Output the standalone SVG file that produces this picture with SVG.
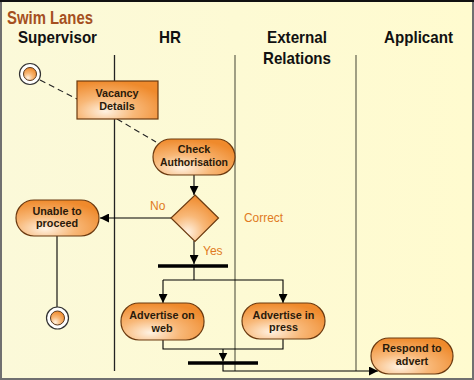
<svg xmlns="http://www.w3.org/2000/svg" width="474" height="380" viewBox="0 0 474 380">
<defs>
<linearGradient id="bg" x1="0" y1="0" x2="1" y2="0">
<stop offset="0" stop-color="#fbf9d9"/>
<stop offset="1" stop-color="#fffbcf"/>
</linearGradient>
<radialGradient id="ng" cx="0.35" cy="0.8" r="0.8">
<stop offset="0" stop-color="#fff2e2"/>
<stop offset="0.45" stop-color="#f8b878"/>
<stop offset="1" stop-color="#ef8a2c"/>
</radialGradient>
<marker id="ah" viewBox="0 0 10 10" refX="10" refY="5" markerWidth="9" markerHeight="9" markerUnits="userSpaceOnUse" orient="auto">
<path d="M0,0 L10,5 L0,10 Z" fill="#000"/>
</marker>
<style>
.hdr{font-family:"Liberation Sans",Arial,sans-serif;font-weight:bold;font-size:17px;fill:#111;text-anchor:middle}
.nt{font-family:"Liberation Sans",Arial,sans-serif;font-weight:bold;font-size:10.8px;fill:#2a1a0a;text-anchor:middle}
.lbl{font-family:"Liberation Sans",Arial,sans-serif;font-size:12px;fill:#e07a22}
.node{fill:url(#ng);stroke:#6b3a10;stroke-width:1.2}
.lane{stroke-width:1.3;fill:none}
.c{stroke:#000;stroke-width:1.1;fill:none}
.ca{stroke:#000;stroke-width:1.1;fill:none;marker-end:url(#ah)}
.dash{stroke:#222;stroke-width:1.1;fill:none;stroke-dasharray:6,4}
.bar{stroke:#000;stroke-width:3.5}
</style>
</defs>
<rect x="1" y="1" width="472" height="378" fill="url(#bg)" stroke="#707070" stroke-width="2"/>
<line x1="0" y1="1" x2="474" y2="1" stroke="#111" stroke-width="2"/>
<text x="7" y="24" font-family="Liberation Sans,Arial,sans-serif" font-weight="bold" font-size="18" fill="#a5501f" textLength="86" lengthAdjust="spacingAndGlyphs">Swim Lanes</text>
<g id="lanes">
<text class="hdr" x="57.5" y="43" textLength="79" lengthAdjust="spacingAndGlyphs">Supervisor</text>
<text class="hdr" x="170" y="43" textLength="22" lengthAdjust="spacingAndGlyphs">HR</text>
<text class="hdr" x="297" y="43" textLength="60" lengthAdjust="spacingAndGlyphs">External</text>
<text class="hdr" x="297" y="64" textLength="68" lengthAdjust="spacingAndGlyphs">Relations</text>
<text class="hdr" x="418.5" y="43" textLength="69" lengthAdjust="spacingAndGlyphs">Applicant</text>
<line class="lane" x1="114.5" y1="55" x2="114.5" y2="371" stroke="#222"/>
<line class="lane" x1="235" y1="55" x2="235" y2="371" stroke="#6e6e58"/>
<line class="lane" x1="356" y1="55" x2="356" y2="371" stroke="#6e6e58"/>
</g>
<g id="connectors">
<line class="dash" x1="40" y1="80" x2="77" y2="99"/>
<line class="dash" x1="117" y1="119" x2="156" y2="142"/>
<line class="ca" x1="194" y1="175" x2="194" y2="195"/>
<line class="ca" x1="171" y1="218" x2="100" y2="218"/>
<line class="ca" x1="194" y1="241" x2="194" y2="264"/>
<polyline class="c" points="194,267 194,280"/>
<polyline class="ca" points="163,280 163,303"/>
<polyline class="ca" points="163,280 283,280 283,303"/>
<polyline class="c" points="163,340 163,349 283,349 283,339"/>
<line class="ca" x1="223" y1="349" x2="223" y2="361.5"/>
<polyline class="ca" points="223,364 223,371 378,371"/>
<line class="c" x1="57" y1="236" x2="57" y2="307"/>
</g>
<g id="start">
<circle cx="30" cy="74" r="10.5" fill="#fff" stroke="#333" stroke-width="1.2"/>
<circle cx="30" cy="74" r="6.5" fill="url(#ng)" stroke="#5a3a20" stroke-width="1"/>
</g>
<g id="vacancy">
<rect class="node" x="77" y="81" width="81" height="38"/>
<text class="nt" x="117" y="97">Vacancy</text>
<text class="nt" x="117" y="110">Details</text>
</g>
<g id="check">
<rect class="node" x="153" y="139" width="82" height="36" rx="18"/>
<text class="nt" x="194" y="153">Check</text>
<text class="nt" x="194" y="166" textLength="68" lengthAdjust="spacingAndGlyphs">Authorisation</text>
</g>
<g id="decision">
<polygon class="node" points="195,195 218.5,218 195,241.5 171,218"/>
<text class="lbl" x="150" y="210">No</text>
<text class="lbl" x="244" y="221.5" textLength="39" lengthAdjust="spacingAndGlyphs">Correct</text>
<text class="lbl" x="203" y="255">Yes</text>
</g>
<g id="unable">
<rect class="node" x="16" y="200" width="83" height="36" rx="18"/>
<text class="nt" x="57" y="215">Unable to</text>
<text class="nt" x="57" y="227">proceed</text>
</g>
<g id="end">
<circle cx="57.5" cy="318" r="11" fill="#fff" stroke="#333" stroke-width="1.2"/>
<circle cx="57.5" cy="318" r="7" fill="url(#ng)" stroke="#5a3a20" stroke-width="1"/>
</g>
<g id="fork">
<line class="bar" x1="158" y1="266" x2="228" y2="266"/>
</g>
<g id="web">
<rect class="node" x="121" y="303" width="83" height="37" rx="18"/>
<text class="nt" x="162" y="319">Advertise on</text>
<text class="nt" x="162" y="331.5">web</text>
</g>
<g id="press">
<rect class="node" x="242" y="303" width="83" height="36" rx="18"/>
<text class="nt" x="283.5" y="318.5">Advertise in</text>
<text class="nt" x="283.5" y="330.5">press</text>
</g>
<g id="join">
<line class="bar" x1="188" y1="363" x2="258" y2="363"/>
</g>
<g id="respond">
<rect class="node" x="371" y="338" width="82" height="36" rx="18"/>
<text class="nt" x="412" y="352">Respond to</text>
<text class="nt" x="412" y="364.5">advert</text>
</g>
</svg>
